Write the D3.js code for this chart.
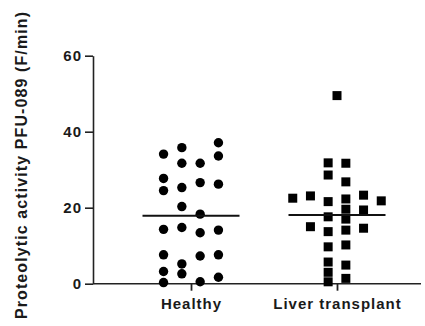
<!DOCTYPE html>
<html>
<head>
<meta charset="utf-8">
<script src="https://cdn.jsdelivr.net/npm/d3@7/dist/d3.min.js"></script>
<style>
  html, body { margin: 0; padding: 0; background: #fff; }
  svg { display: block; }
  text { font-family: "Liberation Sans", Arial, sans-serif; font-weight: bold; fill: #1a1a1a; }
</style>
</head>
<body>
<svg id="chart" width="425" height="326"></svg>
<script>
// Groups on the x axis
const categories = ["Healthy", "Liver transplant"];

// Healthy donors: values per scatter column (left to right)
const healthyColumns = [
  [34.1, 27.7, 24.5, 14.3, 7.6, 3.2, 0.3],
  [35.8, 31.7, 25.3, 20.3, 14.8, 5.2, 2.6],
  [31.7, 26.6, 18.3, 13.4, 7.3, 0.5],
  [37.1, 33.6, 26.2, 14.1, 7.6, 1.7]
];

// Liver transplant recipients: values per scatter column (left to right)
const transplantColumns = [
  [22.5],
  [23.1, 15.0],
  [31.8, 28.6, 21.6, 17.6, 13.7, 9.7, 5.7, 3.0, 0.5],
  [31.7, 26.8, 22.3, 19.6, 17.0, 14.1, 10.2, 4.9, 1.4],
  [23.3, 19.4, 14.6],
  [21.8]
];
// Single high value, centred in the group
const transplantOutlier = [49.5];

const yTicks = [0, 20, 40, 60];
const yLabel = "Proteolytic activity PFU-089 (F/min)";

const svg = d3.select("#chart");

const y = d3.scaleLinear().domain([0, 60]).range([283.7, 55.7]);
const x = d3.scalePoint().domain(categories).range([191, 337]);
const axisLeftX = 93, axisRightX = 421;

// Flatten columns into points with a slot offset around the group centre
function toPoints(cols, group, spacing) {
  const pts = [];
  const mid = (cols.length - 1) / 2;
  cols.forEach((col, i) => col.forEach(v => pts.push({ group, value: v, offset: (i - mid) * spacing })));
  return pts;
}
const healthyPts = toPoints(healthyColumns, categories[0], 18.3);
const transplantPts = toPoints(transplantColumns, categories[1], 17.7)
  .concat(transplantOutlier.map(v => ({ group: categories[1], value: v, offset: 0 })));

// Y axis
const yAxis = d3.axisLeft(y).tickValues(yTicks).tickSize(8).tickPadding(3).tickSizeOuter(0);
const gy = svg.append("g").attr("transform", `translate(${axisLeftX},0)`).call(yAxis);
gy.select(".domain").attr("stroke", "#222").attr("stroke-width", 1.6);
gy.selectAll(".tick line").attr("stroke", "#222").attr("stroke-width", 1.6);
gy.selectAll(".tick text")
  .attr("font-size", 15).attr("letter-spacing", 1)
  .attr("font-family", "Liberation Sans, Arial, sans-serif").attr("font-weight", "bold")
  .attr("fill", "#1a1a1a");

// X axis baseline
svg.append("line")
  .attr("x1", axisLeftX).attr("x2", axisRightX)
  .attr("y1", y(0)).attr("y2", y(0))
  .attr("stroke", "#222").attr("stroke-width", 1.6);

const xAxis = d3.axisBottom(x).tickSize(7).tickPadding(8).tickSizeOuter(0);
const gx = svg.append("g").attr("transform", `translate(0,${y(0)})`).call(xAxis);
gx.select(".domain").remove();
gx.selectAll(".tick line").attr("stroke", "#222").attr("stroke-width", 1.8);
gx.selectAll(".tick text")
  .attr("font-size", 15).attr("letter-spacing", 1)
  .attr("font-family", "Liberation Sans, Arial, sans-serif").attr("font-weight", "bold")
  .attr("fill", "#1a1a1a");

// Y axis title
svg.append("text")
  .attr("transform", `translate(21,165) rotate(-90)`)
  .attr("text-anchor", "middle")
  .attr("dominant-baseline", "central")
  .attr("font-size", 16)
  .attr("letter-spacing", 1.1)
  .text(yLabel);

// Healthy: filled circles
svg.append("g").selectAll("circle").data(healthyPts).join("circle")
  .attr("cx", d => x(d.group) + d.offset)
  .attr("cy", d => y(d.value))
  .attr("r", 4.7)
  .attr("fill", "#000");

// Liver transplant: filled squares
const sq = 9;
svg.append("g").selectAll("rect").data(transplantPts).join("rect")
  .attr("x", d => x(d.group) + d.offset - sq / 2)
  .attr("y", d => y(d.value) - sq / 2)
  .attr("width", sq).attr("height", sq)
  .attr("fill", "#000");

// Group means
const means = [
  { group: categories[0], value: d3.mean(healthyPts, d => d.value) },
  { group: categories[1], value: d3.mean(transplantPts, d => d.value) }
];
svg.append("g").selectAll("line").data(means).join("line")
  .attr("x1", d => x(d.group) - 48.5)
  .attr("x2", d => x(d.group) + 48.5)
  .attr("y1", d => y(d.value))
  .attr("y2", d => y(d.value))
  .attr("stroke", "#111").attr("stroke-width", 2);
</script>
</body>
</html>
